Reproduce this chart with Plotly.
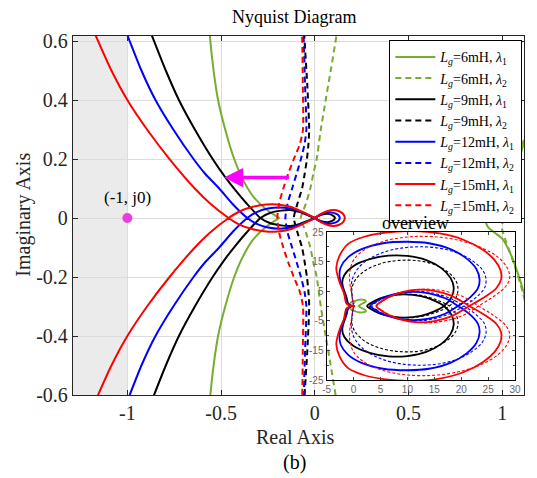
import plotly.graph_objects as go

# ---------------- data (upper / positive-frequency branch of each locus) ----------------
# Lg = 6 mH
GS_x = [0.91, 0.915, 0.93, 0.96, 1.0, 1.05, 1.09, 1.13, 1.4, 1.9, 2.3, 2.2, 1.6, 0.9, 0.2, -0.25, -0.5, -0.575,
        -0.56, -0.54, -0.516, -0.478, -0.43, -0.375, -0.325, -0.26, -0.21, -0.19]
GS_y = [0, 0.02, 0.035, 0.05, 0.07, 0.13, 0.2, 0.28, 0.6, 1.05, 1.5, 1.9, 2.15, 2.1, 1.75, 1.5, 1.15, 0.8,
        0.62, 0.5, 0.4, 0.3, 0.2, 0.12, 0.07, 0.03, 0.008, 0]
GD_x = [1.01, 1.0, 1.0, 1.02, 1.06, 1.1, 1.14, 1.4, 1.9, 2.3, 2.1, 1.4, 0.7, 0.35, 0.22, 0.16,
        0.116, 0.085, 0.058, 0.032, 0.01, -0.008, -0.024, -0.047, -0.068, -0.075]
GD_y = [0, 0.02, 0.04, 0.08, 0.15, 0.23, 0.32, 0.6, 1.1, 1.6, 2.1, 2.3, 2.1, 1.6, 1.1, 0.8,
        0.62, 0.5, 0.4, 0.3, 0.2, 0.15, 0.1, 0.05, 0.015, 0]
# Lg = 9 mH
KS_x = [2.5, 3.2, 4.8, 7, 9.5, 12.5, 15, 16.8, 18.2, 18.6, 18, 16.3, 13.5, 10, 6.5, 3, 0, -1.7, -2.1, -1.8, -1.35, -1.1, -0.98,
        -0.87, -0.795, -0.725, -0.64, -0.545, -0.48, -0.425, -0.365, -0.29, -0.24, -0.18, -0.13, -0.08, -0.035, 0,
        0.02, 0.045, 0.07, 0.092, 0.104, 0.107]
KS_y = [0, -1.0, -2.5, -3.5, -3.9, -3.3, -1.8, 0, 3, 6.2, 9.5, 12.8, 15.5, 16.9, 17, 15.8, 13.5, 10.5, 8, 5.5, 3.2, 1.3, 0.8,
        0.62, 0.5, 0.4, 0.3, 0.2, 0.14, 0.095, 0.05, 0, -0.017, -0.025, -0.027, -0.02, -0.009, 0,
        0.007, 0.013, 0.014, 0.01, 0.005, 0]
KD_x = [2.9, 3.6, 5.2, 7.5, 10, 13, 15.8, 17.8, 19, 19.4, 19, 17.5, 15, 12, 8.5, 5, 2.2, 0.4, -0.3, -0.25, -0.12, -0.07,
        -0.056, -0.04, -0.03, -0.034, -0.042, -0.054, -0.068, -0.092, -0.112]
KD_y = [0, -1.0, -2.5, -3.6, -4.0, -3.4, -1.8, 0, 2.8, 5.5, 8.5, 11.5, 14, 15.3, 15.4, 14.3, 12, 9, 6, 3.5, 1.6, 0.9,
        0.62, 0.45, 0.3, 0.25, 0.2, 0.15, 0.1, 0.05, 0]
# Lg = 12 mH
BS_x = [3.1, 3.8, 5.5, 8, 11, 14, 17, 19.4, 21.7, 23.1, 23.4, 22.8, 21, 18, 14, 10, 5.5, 1.5, -1, -2.4, -2.6, -2.2, -1.7, -1.45, -1.25, -1.11,
        -1.0, -0.925, -0.85, -0.755, -0.647, -0.585, -0.51, -0.435, -0.36, -0.31, -0.25, -0.19, -0.13, -0.07, -0.03, 0,
        0.025, 0.055, 0.085, 0.112, 0.128, 0.133]
BS_y = [0, -1.1, -2.8, -4.2, -4.8, -4.3, -2.6, 0, 3, 6, 9, 12.5, 16, 19.2, 21.2, 21.7, 21.2, 19.2, 16.5, 13, 10, 7, 4.2, 2.4, 1.3, 0.8,
        0.62, 0.5, 0.4, 0.3, 0.2, 0.15, 0.1, 0.045, 0, -0.02, -0.032, -0.036, -0.032, -0.02, -0.009, 0,
        0.01, 0.017, 0.019, 0.015, 0.008, 0]
BD_x = [3.4, 4.2, 6, 8.5, 11.5, 14.5, 18, 20.5, 22.8, 24.3, 24.6, 24, 22.3, 19.5, 16, 12, 8, 4.5, 1.8, 0.2, -0.4, -0.35, -0.2, -0.09,
        -0.06, -0.052, -0.045, -0.055, -0.074, -0.097, -0.121, -0.145, -0.157]
BD_y = [0, -1.2, -3, -4.4, -5.0, -4.5, -2.5, 0, 3, 6, 9, 12, 15, 17.8, 19.5, 20, 19.3, 17.4, 14.5, 11, 7.5, 4.5, 2.2, 1.1,
        0.62, 0.45, 0.3, 0.25, 0.2, 0.15, 0.1, 0.05, 0]
# Lg = 15 mH
RS_x = [4.2, 4.9, 6.5, 9, 12, 15, 18, 21.5, 24.5, 26.5, 27.4, 27.3, 26.2, 24, 20.5, 16, 11, 6, 2, -1, -2.6, -3.2, -3.0, -2.5,
        -1.8, -1.6, -1.45, -1.29,
        -1.17, -1.085, -1.0, -0.895, -0.775, -0.64, -0.56, -0.46, -0.4, -0.33, -0.26, -0.2, -0.13, -0.07, -0.03, 0,
        0.03, 0.065, 0.1, 0.13, 0.152, 0.16]
RS_y = [0, -1.2, -3.0, -4.7, -5.5, -5.1, -3.6, 0, 3.2, 6, 9, 12, 15.5, 19, 22.3, 24.5, 25.3, 24.8, 23.4, 21, 17, 13, 10.5, 7.5,
        4.5, 2.6, 1.4, 0.8,
        0.62, 0.5, 0.4, 0.3, 0.2, 0.1, 0.05, 0, -0.023, -0.038, -0.046, -0.046, -0.038, -0.022, -0.01, 0,
        0.013, 0.023, 0.027, 0.023, 0.013, 0]
RD_x = [4.3, 5.2, 7, 10, 13.5, 17, 20.5, 23.2, 26, 28.2, 29, 28.5, 26.8, 24, 20, 15, 10, 5.5, 2, 0, -0.7, -0.7, -0.45, -0.25, -0.12,
        -0.068, -0.064, -0.063, -0.08, -0.112, -0.142, -0.168, -0.19, -0.2]
RD_y = [0, -1.4, -3.3, -5, -5.7, -5.0, -3.0, 0, 3.2, 6.5, 9.5, 13, 16.5, 19.5, 22, 23.4, 23.3, 21.8, 19, 15.5, 11.5, 8, 5, 2.5, 1.2,
        0.62, 0.45, 0.3, 0.25, 0.2, 0.15, 0.1, 0.05, 0]

NAMES = ["<i>L</i><sub><i>g</i></sub>=6mH, <i>λ</i><sub>1</sub>",
         "<i>L</i><sub><i>g</i></sub>=6mH, <i>λ</i><sub>2</sub>",
         "<i>L</i><sub><i>g</i></sub>=9mH, <i>λ</i><sub>1</sub>",
         "<i>L</i><sub><i>g</i></sub>=9mH, <i>λ</i><sub>2</sub>",
         "<i>L</i><sub><i>g</i></sub>=12mH, <i>λ</i><sub>1</sub>",
         "<i>L</i><sub><i>g</i></sub>=12mH, <i>λ</i><sub>2</sub>",
         "<i>L</i><sub><i>g</i></sub>=15mH, <i>λ</i><sub>1</sub>",
         "<i>L</i><sub><i>g</i></sub>=15mH, <i>λ</i><sub>2</sub>"]
XT = [-1, -0.5, 0, 0.5, 1]
XTL = ["-1", "-0.5", "0", "0.5", "1"]
YT = [-0.6, -0.4, -0.2, 0, 0.2, 0.4, 0.6]
YTL = ["-0.6", "-0.4", "-0.2", "0", "0.2", "0.4", "0.6"]
X2T = [-5, 0, 5, 10, 15, 20, 25, 30]
X2TL = ["-5", "0", "5", "10", "15", "20", "25", "30"]
Y2T = [-25, -15, -5, 5, 15, 25]
Y2TL = ["-25", "-15", "-5", "5", "15", "25"]
CRIT_X = [-1]
CRIT_Y = [0]

GREEN, BLACK, BLUE, RED = '#77AC30', '#000000', '#0000FF', '#FF0000'
SERIES = [(GS_x, GS_y, GREEN, False), (GD_x, GD_y, GREEN, True),
          (KS_x, KS_y, BLACK, False), (KD_x, KD_y, BLACK, True),
          (BS_x, BS_y, BLUE, False), (BD_x, BD_y, BLUE, True),
          (RS_x, RS_y, RED, False), (RD_x, RD_y, RED, True)]


def with_conjugate(xs, ys):
    # Nyquist locus: positive-frequency branch followed by its complex conjugate (negative frequencies)
    return xs + xs[-2::-1], ys + [-v for v in ys[-2::-1]]


fig = go.Figure()
for (xs, ys, col, dashed), name in zip(SERIES, NAMES):
    fx, fy = with_conjugate(xs, ys)
    fig.add_trace(go.Scatter(x=fx, y=fy, mode='lines', name=name,
                             line=dict(color=col, width=2, dash='6px,4px' if dashed else 'solid',
                                       shape='spline', smoothing=0.6),
                             xaxis='x', yaxis='y', hoverinfo='skip'))
for (xs, ys, col, dashed), name in zip(SERIES, NAMES):
    fx, fy = with_conjugate(xs, ys)
    fig.add_trace(go.Scatter(x=fx, y=fy, mode='lines', showlegend=False,
                             line=dict(color=col, width=1.1 if dashed else 1.8,
                                       dash='3px,2px' if dashed else 'solid',
                                       shape='spline', smoothing=1.0),
                             xaxis='x2', yaxis='y2', hoverinfo='skip'))

fig.add_trace(go.Scatter(x=CRIT_X, y=CRIT_Y, mode='markers', showlegend=False,
                         marker=dict(color='#F03CDC', size=10), xaxis='x', yaxis='y'))

SERIF = 'Liberation Serif, Times New Roman, serif'
AX = '#262626'
OFF = 8  # page body margin
W, H = 537 - OFF, 478 - OFF
L, T = 73 - OFF, 36 - OFF
R = W - (530 - OFF)
B = H - (395 - OFF)
PW, PH = W - L - R, H - T - B


def px(xp):
    return (xp - OFF - L) / PW


def py(yp):
    return (H - B - (yp - OFF)) / PH


fig.update_layout(
    width=W, height=H, margin=dict(l=L, r=R, t=T, b=B),
    paper_bgcolor='white', plot_bgcolor='rgba(0,0,0,0)',
    font=dict(family=SERIF, color=AX),
    xaxis=dict(domain=[0, 1], range=[-1.29, 1.116], tickvals=XT, ticktext=XTL,
               showgrid=True, gridcolor='#dcdcdc', gridwidth=1, zeroline=False,
               showline=True, linecolor=AX, linewidth=1.3, mirror='ticks',
               ticks='inside', ticklen=5, tickcolor=AX, tickfont=dict(size=20, color=AX)),
    yaxis=dict(domain=[0, 1], range=[-0.6, 0.617], tickvals=YT, ticktext=YTL,
               showgrid=True, gridcolor='#dcdcdc', gridwidth=1, zeroline=False,
               showline=True, linecolor=AX, linewidth=1.3, mirror='ticks',
               ticks='inside', ticklen=5, tickcolor=AX, tickfont=dict(size=20, color=AX)),
    xaxis2=dict(domain=[px(330), px(521)], range=[-5, 30], anchor='y2',
                tickvals=X2T, ticktext=X2TL, showgrid=False, zeroline=False,
                showline=True, linecolor='black', linewidth=1.3, mirror='ticks',
                ticks='inside', ticklen=3, tickcolor='#444',
                tickfont=dict(family='Liberation Sans, Arial', size=10, color='#666')),
    yaxis2=dict(domain=[py(380), py(232)], range=[-25, 25], anchor='x2',
                tickvals=Y2T, ticktext=Y2TL, showgrid=False, zeroline=False,
                showline=True, linecolor='black', linewidth=1.3, mirror='ticks',
                ticks='inside', ticklen=3, tickcolor='#444',
                minor=dict(dtick=5, tick0=0, ticks='inside', ticklen=2, tickcolor='#444'),
                tickfont=dict(family='Liberation Sans, Arial', size=10, color='#666')),
    legend=dict(x=px(528), y=py(40), xanchor='right', yanchor='top',
                bgcolor='white', bordercolor='black', borderwidth=1.3, itemwidth=40,
                font=dict(family=SERIF, size=14, color='black'), tracegroupgap=0),
    showlegend=True,
)

fig.add_shape(type='rect', xref='x', yref='y', x0=-1.29, x1=-1, y0=-0.6, y1=0.617,
              fillcolor='#ebebeb', line=dict(width=0), layer='below')

ann = [
    dict(text='Nyquist Diagram', x=px(297), y=py(17), font=dict(size=18, color='black')),
    dict(text='Real Axis', x=px(298), y=py(437), font=dict(size=20, color=AX)),
    dict(text='(b)', x=px(297), y=py(462), font=dict(size=20, color='black')),
    dict(text='Imaginary Axis', x=px(22), y=py(215), textangle=-90, font=dict(size=20, color=AX)),
    dict(text='overview', x=px(420), y=py(223), font=dict(size=18, color='black')),
]
for a in ann:
    fig.add_annotation(xref='paper', yref='paper', showarrow=False, xanchor='center', yanchor='middle', **a)

fig.add_annotation(xref='x', yref='y', x=-1, y=0.07, text='(-1, j0)', showarrow=False,
                   font=dict(size=17, color='black'))
fig.add_annotation(xref='x', yref='y', axref='x', ayref='y', x=-0.485, y=0.137, ax=-0.13, ay=0.137,
                   text='', showarrow=True, arrowhead=2, arrowsize=1.1, arrowwidth=3.5, arrowcolor='#FF00FF')

fig.write_html('out.html')
